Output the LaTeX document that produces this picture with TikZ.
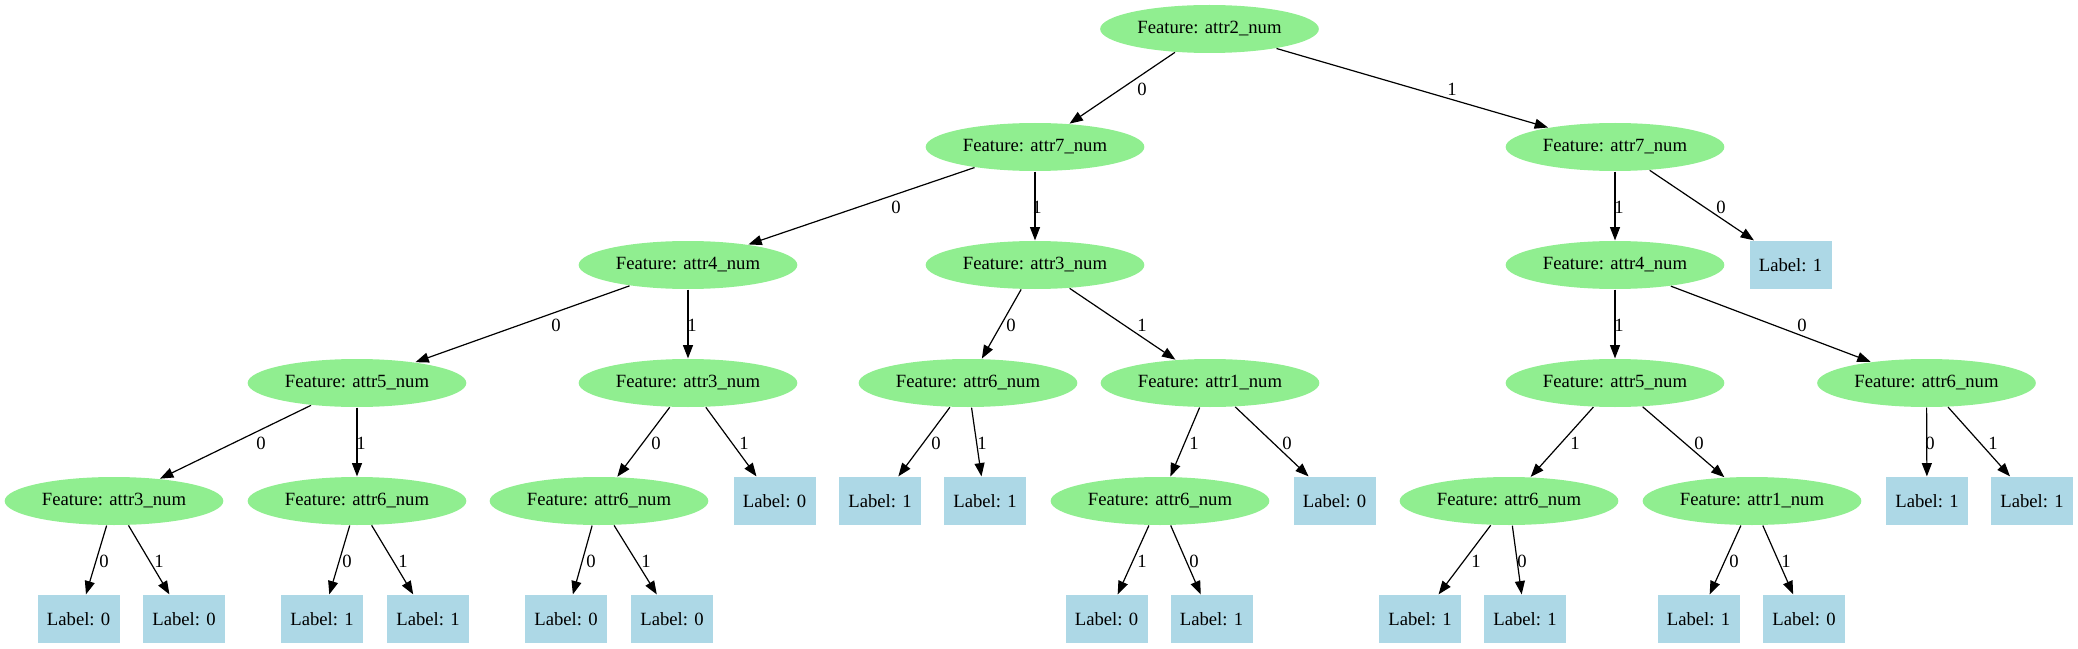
\documentclass[tikz,border=0pt]{standalone}
\usepackage{fontspec}
\setmainfont{Liberation Serif}
\usetikzlibrary{shapes.geometric,arrows.meta}

\definecolor{featgreen}{RGB}{144,238,144}
\definecolor{leafblue}{RGB}{173,216,230}

\begin{document}
\begin{tikzpicture}[->,>={Triangle[length=10pt,width=7.5pt]},line width=0.9pt,x=0.75pt,y=-0.75pt,
	feat node/.style={ellipse,fill=featgreen,inner sep=0pt,minimum width=164pt,minimum height=36pt},
	leaf node/.style={rectangle,fill=leafblue,inner sep=0pt,minimum width=61.5pt,minimum height=36pt},
	elab/.style={inner sep=0pt}]
	\tikzstyle{every node}=[font=\fontsize{14pt}{16pt}\selectfont]
	\useasboundingbox (0,0) rectangle (2078,649);
	\draw 
		(1209.5,29) node[feat node](n) {Feature: attr2\_num}
		(1035,147) node[feat node](n0) {Feature: attr7\_num}
		(1615,147) node[feat node](n1) {Feature: attr7\_num}
		(688,265) node[feat node](n00) {Feature: attr4\_num}
		(1035,265) node[feat node](n01) {Feature: attr3\_num}
		(1615,265) node[feat node](n11) {Feature: attr4\_num}
		(1790.5,265) node[leaf node](n10) {Label: 1}
		(357,383) node[feat node](n000) {Feature: attr5\_num}
		(688,383) node[feat node](n001) {Feature: attr3\_num}
		(968,383) node[feat node](n010) {Feature: attr6\_num}
		(1210,383) node[feat node](n011) {Feature: attr1\_num}
		(1615,383) node[feat node](n111) {Feature: attr5\_num}
		(1926.5,383) node[feat node](n110) {Feature: attr6\_num}
		(114,501) node[feat node](n0000) {Feature: attr3\_num}
		(357,501) node[feat node](n0001) {Feature: attr6\_num}
		(599,501) node[feat node](n0010) {Feature: attr6\_num}
		(774.5,501) node[leaf node](n0011) {Label: 0}
		(880,501) node[leaf node](n0100) {Label: 1}
		(985,501) node[leaf node](n0101) {Label: 1}
		(1160,501) node[feat node](n0111) {Feature: attr6\_num}
		(1334.5,501) node[leaf node](n0110) {Label: 0}
		(1509,501) node[feat node](n1111) {Feature: attr6\_num}
		(1752,501) node[feat node](n1110) {Feature: attr1\_num}
		(1927,501) node[leaf node](n1100) {Label: 1}
		(2032,501) node[leaf node](n1101) {Label: 1}
		(78.6,619) node[leaf node](n00000) {Label: 0}
		(184,619) node[leaf node](n00001) {Label: 0}
		(322,619) node[leaf node](n00010) {Label: 1}
		(428,619) node[leaf node](n00011) {Label: 1}
		(566,619) node[leaf node](n00100) {Label: 0}
		(672,619) node[leaf node](n00101) {Label: 0}
		(1106.5,619) node[leaf node](n01111) {Label: 0}
		(1211.5,619) node[leaf node](n01110) {Label: 1}
		(1420,619) node[leaf node](n11111) {Label: 1}
		(1525,619) node[leaf node](n11110) {Label: 1}
		(1698.5,619) node[leaf node](n11100) {Label: 1}
		(1804,619) node[leaf node](n11101) {Label: 0};
	% split on attr2 / attr7
	\draw (1142,89) node[elab] {0} (n) to (n0);
	\draw (1452,89) node[elab] {1} (n) to (n1);
	\draw (896,207) node[elab] {0} (n0) to (n00);
	\draw (1037,207) node[elab] {1} (n0) to (n01);
	\draw (1619,207) node[elab] {1} (n1) to (n11);
	\draw (1721,207) node[elab] {0} (n1) to (n10);
	% third level
	\draw (556,325) node[elab] {0} (n00) to (n000);
	\draw (692,325) node[elab] {1} (n00) to (n001);
	\draw (1011,325) node[elab] {0} (n01) to (n010);
	\draw (1142,325) node[elab] {1} (n01) to (n011);
	\draw (1619,325) node[elab] {1} (n11) to (n111);
	\draw (1802,325) node[elab] {0} (n11) to (n110);
	% fourth level
	\draw (261,443) node[elab] {0} (n000) to (n0000);
	\draw (361,443) node[elab] {1} (n000) to (n0001);
	\draw (656,443) node[elab] {0} (n001) to (n0010);
	\draw (744,443) node[elab] {1} (n001) to (n0011);
	\draw (936,443) node[elab] {0} (n010) to (n0100);
	\draw (982,443) node[elab] {1} (n010) to (n0101);
	\draw (1194,443) node[elab] {1} (n011) to (n0111);
	\draw (1287,443) node[elab] {0} (n011) to (n0110);
	\draw (1575,443) node[elab] {1} (n111) to (n1111);
	\draw (1699,443) node[elab] {0} (n111) to (n1110);
	\draw (1930,443) node[elab] {0} (n110) to (n1100);
	\draw (1993,443) node[elab] {1} (n110) to (n1101);
	% leaves
	\draw (104,561) node[elab] {0} (n0000) to (n00000);
	\draw (159,561) node[elab] {1} (n0000) to (n00001);
	\draw (347,561) node[elab] {0} (n0001) to (n00010);
	\draw (403,561) node[elab] {1} (n0001) to (n00011);
	\draw (591,561) node[elab] {0} (n0010) to (n00100);
	\draw (646,561) node[elab] {1} (n0010) to (n00101);
	\draw (1142,561) node[elab] {1} (n0111) to (n01111);
	\draw (1194,561) node[elab] {0} (n0111) to (n01110);
	\draw (1476,561) node[elab] {1} (n1111) to (n11111);
	\draw (1522,561) node[elab] {0} (n1111) to (n11110);
	\draw (1734,561) node[elab] {0} (n1110) to (n11100);
	\draw (1786,561) node[elab] {1} (n1110) to (n11101);
\end{tikzpicture}
\end{document}
